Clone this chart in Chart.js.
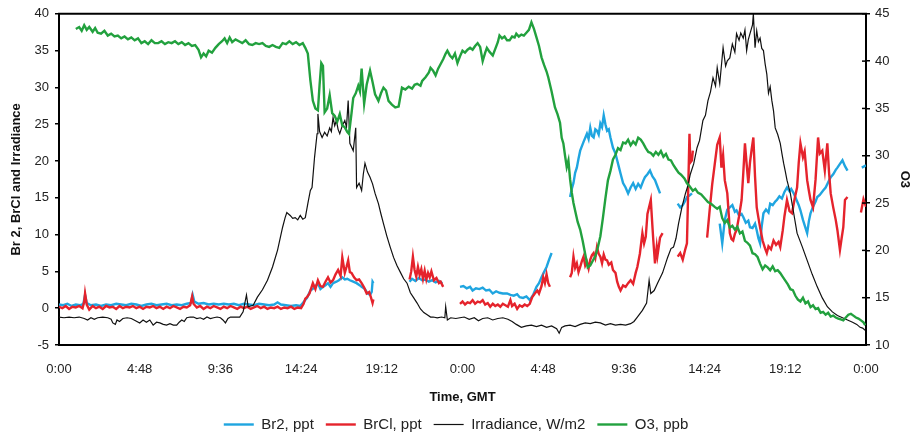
<!DOCTYPE html>
<html>
<head>
<meta charset="utf-8">
<title>Br2, BrCl, irradiance and O3</title>
<script src="https://cdn.jsdelivr.net/npm/chart.js@4.4.1/dist/chart.umd.min.js"></script>
<style>
    html, body { margin: 0; padding: 0; background: #fff; }
    #wrap { width: 912px; height: 436px; position: relative; }
</style>
</head>
<body>
<div id="wrap"><canvas id="chart"></canvas></div>
<script>
// x axis: hours since the first midnight, two days
const xTickHours = [0, 4.8, 9.6, 14.4, 19.2, 24, 28.8, 33.6, 38.4, 43.2, 48];
const xTickLabels = ['0:00', '4:48', '9:36', '14:24', '19:12', '0:00', '4:48', '9:36', '14:24', '19:12', '0:00'];

// Br2, ppt (null = gap in the record)
const br2Hours = [0, 0.25, 0.5, 0.75, 1, 1.25, 1.45, 1.55, 1.65, 1.9, 2.2, 2.5, 2.8, 3.1, 3.4, 3.7, 4, 4.3, 4.6, 4.9, 5.2, 5.5, 5.8, 6.1, 6.4, 6.7, 7, 7.3, 7.6, 7.85, 7.95, 8.05, 8.3, 8.6, 8.9, 9.2, 9.5, 9.8, 10.1, 10.4, 10.7, 11, 11.3, 11.6, 11.9, 12.2, 12.5, 12.8, 13, 13.2, 13.5, 13.8, 14.1, 14.35, 14.5, 14.75, 14.95, 15.2, 15.4, 15.55, 15.7, 15.85, 16, 16.15, 16.3, 16.5, 16.65, 16.85, 17, 17.15, 17.3, 17.5, 17.7, 17.9, 18, 18.2, 18.35, 18.5, 18.6, 18.65, 18.7, 18.8,
    20.85, 21, 21.2, 21.4, 21.6, 21.8, 22, 22.2, 22.4, 22.6, 22.8, 23.3,
    23.85, 24.05, 24.25, 24.45, 24.6, 24.8, 25, 25.2, 25.4, 25.6, 25.8, 26, 26.2, 26.4, 26.65, 26.85, 27.05, 27.25, 27.4, 27.6, 27.8, 28, 28.2, 28.4, 28.55, 28.7, 28.85, 29, 29.15, 29.3, 29.6,
    30.4, 30.5, 30.6, 30.7, 30.8, 30.9, 31, 31.2, 31.4, 31.5, 31.6, 31.7, 31.8, 31.9, 32, 32.1, 32.2, 32.3, 32.4, 32.5, 32.6, 32.7, 32.8, 32.95, 33.1, 33.2, 33.3, 33.4, 33.55, 33.7, 33.85, 34, 34.15, 34.3, 34.45, 34.6, 34.75, 34.85, 35, 35.15, 35.3, 35.45, 35.6, 35.75, 36,
    36.8, 36.95, 37.1, 37.25, 37.35, 37.5, 37.65, 38.5,
    39.3, 39.45, 39.6, 39.75, 39.9, 40.05, 40.2, 40.3, 40.45, 40.6, 40.7, 40.85, 41, 41.1, 41.25, 41.4, 41.5, 41.6, 41.7, 41.8, 41.9, 42.05, 42.2, 42.3, 42.45, 42.6, 42.7, 42.85, 43, 43.15, 43.3, 43.45, 43.55, 43.7, 43.85, 44, 44.1, 44.25, 44.4, 44.5, 44.6, 44.7, 44.85, 45, 45.1, 45.25, 45.45, 45.6, 45.75, 45.9, 46.05, 46.2, 46.3, 46.45, 46.6, 46.75, 46.9, 47.3,
    47.75, 48];
const br2Ppt = [0.5, 0.4, 0.6, 0.3, 0.5, 0.4, 0.6, 1.8, 0.7, 0.4, 0.5, 0.3, 0.5, 0.4, 0.6, 0.5, 0.4, 0.6, 0.5, 0.3, 0.5, 0.6, 0.4, 0.5, 0.6, 0.4, 0.5, 0.4, 0.6, 0.7, 1.8, 0.9, 0.6, 0.7, 0.5, 0.6, 0.5, 0.6, 0.5, 0.6, 0.4, 0.6, 0.5, 0.4, 0.6, 0.5, 0.4, 0.5, 0.8, 0.5, 0.4, 0.3, 0.4, 0.3, 0.7, 1.4, 2.4, 2.8, 3.4, 2.6, 2.9, 3.1, 3.4, 2.9, 3.4, 3.6, 3.8, 4.2, 3.9, 4.0, 3.8, 3.6, 3.4, 3.1, 2.9, 2.6, 2.0, 1.8, 2.2, 3.6, 3.4, null,
    3.6, 4.0, 3.7, 4.1, 3.8, 3.9, 3.6, 3.8, 3.5, 3.7, 3.4, null,
    2.9, 3.0, 2.7, 2.9, 2.4, 2.7, 2.6, 2.8, 2.4, 2.5, 2.0, 2.3, 2.1, 2.0, 2.0, 1.8, 1.7, 1.9, 1.5, 1.4, 1.6, 1.1, 1.8, 2.9, 3.4, 4.2, 4.9, 5.6, 6.6, 7.5, null,
    15.1, 16.2, 17.0, 18.4, 19.1, 20.3, 21.4, 22.6, 23.7, 23.0, 24.5, 23.4, 23.2, 24.3, 24.1, 23.6, 25.1, 24.6, 26.2, 25.0, 24.1, 24.3, 23.2, 21.8, 21.0, 20.1, 19.2, 18.3, 17.0, 16.4, 15.6, 16.4, 17.0, 16.2, 16.9, 16.4, 17.3, 17.8, 18.2, 18.7, 17.9, 17.4, 16.5, 15.6, null,
    14.2, 13.7, 14.0, 14.6, 15.1, 15.3, 15.6, null,
    11.5, 8.8, 12.0, 13.4, 13.7, 14.0, 13.1, 13.3, 12.6, 12.8, 12.4, 11.6, 11.9, 11.0, 10.9, 11.5, 10.6, 9.5, 8.8, 11.2, 12.9, 13.4, 13.0, 14.2, 14.0, 14.5, 14.7, 15.2, 14.9, 15.8, 16.4, 15.9, 16.2, 15.6, 14.8, 14.0, 13.3, 12.0, 10.9, 10.2, 11.8, 12.9, 13.8, 14.5, 15.1, 15.4, 16.0, 16.4, 17.1, 17.8, 18.2, 18.8, 19.1, 19.6, 20.1, 19.3, 18.7, null,
    19.1, 19.4];

// BrCl, ppt
const brclHours = [0, 0.2, 0.4, 0.6, 0.8, 1, 1.2, 1.4, 1.5, 1.55, 1.65, 1.8, 2, 2.2, 2.4, 2.6, 2.8, 3, 3.2, 3.4, 3.6, 3.8, 4, 4.2, 4.4, 4.6, 4.8, 5, 5.2, 5.4, 5.6, 5.8, 6, 6.2, 6.4, 6.6, 6.8, 7, 7.2, 7.4, 7.6, 7.8, 7.92, 8, 8.2, 8.4, 8.6, 8.8, 9, 9.2, 9.4, 9.6, 9.8, 10, 10.2, 10.4, 10.6, 10.8, 11, 11.2, 11.4, 11.6, 11.8, 12, 12.2, 12.4, 12.6, 12.8, 13, 13.2, 13.4, 13.6, 13.8, 14, 14.2, 14.4, 14.55, 14.65, 14.75, 14.9, 15.1, 15.25, 15.4, 15.55, 15.7, 15.85, 16, 16.15, 16.3, 16.45, 16.6, 16.75, 16.85, 16.95, 17, 17.1, 17.2, 17.3, 17.4, 17.55, 17.7, 17.85, 18, 18.15, 18.3, 18.45, 18.55, 18.65, 18.7, 18.8,
    20.85, 20.95, 21.05, 21.15, 21.25, 21.35, 21.45, 21.55, 21.65, 21.75, 21.85, 21.95, 22.05, 22.15, 22.3, 22.45, 22.6, 22.7, 22.85, 23.3,
    23.85, 24, 24.15, 24.3, 24.45, 24.6, 24.75, 24.9, 25.05, 25.2, 25.35, 25.5, 25.65, 25.8, 25.95, 26.1, 26.25, 26.4, 26.55, 26.7, 26.85, 26.95, 27.1, 27.25, 27.4, 27.55, 27.7, 27.85, 28, 28.15, 28.3, 28.45, 28.55, 28.7, 28.8, 28.9, 29, 29.1, 29.2, 29.6,
    30.4, 30.5, 30.6, 30.7, 30.8, 30.9, 31, 31.1, 31.2, 31.3, 31.4, 31.5, 31.6, 31.7, 31.8, 31.9, 32, 32.1, 32.2, 32.3, 32.4, 32.5, 32.6, 32.7, 32.85, 32.95, 33.1, 33.2, 33.3, 33.4, 33.55, 33.7, 33.85, 34, 34.15, 34.3, 34.4, 34.55, 34.7, 34.8, 34.9, 35, 35.2, 35.3, 35.35, 35.45, 35.55, 35.6, 35.75, 35.9, 36.3,
    36.8, 36.95, 37.1, 37.25, 37.35, 37.45, 37.5, 37.55, 37.65, 37.7, 38.1,
    38.55, 38.7, 38.85, 39, 39.15, 39.3, 39.4, 39.5, 39.6, 39.75, 39.85, 39.9, 40, 40.1, 40.2, 40.3, 40.45, 40.6, 40.7, 40.8, 40.9, 41, 41.1, 41.2, 41.3, 41.4, 41.5, 41.6, 41.7, 41.85, 42, 42.1, 42.2, 42.35, 42.5, 42.65, 42.8, 42.9, 43.05, 43.15, 43.3, 43.45, 43.6, 43.75, 43.9, 44, 44.1, 44.25, 44.35, 44.5, 44.6, 44.7, 44.85, 45, 45.15, 45.25, 45.4, 45.55, 45.7, 45.8, 45.9, 46.05, 46.2, 46.3, 46.45, 46.55, 46.65, 46.75, 46.9, 47.3,
    47.7, 47.85, 48];
const brclPpt = [0.2, 0.0, 0.3, -0.1, 0.2, 0.1, 0.3, 0.0, 0.9, 2.0, 0.5, -0.2, 0.3, 0.0, 0.2, -0.1, 0.3, 0.1, 0.2, -0.1, 0.3, 0.0, 0.2, 0.1, 0.3, 0.0, 0.2, -0.1, 0.2, 0.1, 0.3, 0.0, 0.2, -0.1, 0.2, 0.0, 0.3, 0.1, -0.1, 0.2, 0.1, 0.4, 1.6, 0.6, 0.1, 0.3, -0.1, 0.2, 0.0, 0.3, 0.1, -0.1, 0.2, 0.0, 0.3, 0.1, -0.1, 0.2, 0.0, 0.2, -0.1, 0.1, 0.3, 0.0, 0.2, -0.1, 0.1, 0.0, 0.2, -0.1, 0.1, 0.0, 0.2, -0.1, 0.1, 0.0, 0.6, 1.3, 1.5, 2.0, 3.4, 2.6, 3.8, 3.0, 2.9, 3.6, 4.2, 3.5, 3.8, 4.6, 5.2, 4.4, 6.9, 5.5, 4.8, 5.6, 6.5, 4.9, 4.8, 4.2, 3.8, 3.9, 3.4, 2.8, 2.0, 2.2, 1.5, 0.7, 1.2, null,
    3.9, 5.0, 7.0, 5.2, 4.3, 5.6, 4.5, 5.3, 4.0, 5.1, 3.9, 4.8, 4.2, 5.0, 3.8, 4.1, 3.4, 3.6, 2.9, null,
    0.6, 0.9, 0.5, 0.8, 0.7, 1.1, 0.6, 0.9, 0.8, 1.1, 0.5, 0.7, 0.2, 0.6, 0.3, 0.5, 0.2, 0.6, 0.4, 0.2, 1.1, 0.3, 0.6, -0.1, 0.4, 0.2, 0.5, 0.3, 0.6, 1.5, 2.0, 2.4, 2.0, 3.0, 4.2, 3.4, 4.6, 3.4, 2.9, null,
    4.2, 4.8, 7.0, 5.5, 6.1, 4.9, 5.6, 6.4, 7.0, 5.8, 6.3, 5.4, 6.6, 7.2, 7.5, 6.8, 8.3, 7.4, 7.0, 6.1, 7.3, 6.6, 6.5, 5.9, 6.2, 5.2, 4.8, 3.6, 2.9, 2.4, 3.1, 2.9, 3.4, 3.8, 3.3, 4.8, 5.6, 7.4, 10.2, 8.8, 9.7, 12.8, 14.7, 11.0, 9.2, 6.1, 8.3, 7.2, 9.6, 10.2, null,
    7.0, 7.5, 6.6, 8.0, 8.8, 18.6, 23.7, 19.8, 20.1, 21.4, null,
    9.6, 13.3, 16.8, 19.5, 22.2, 23.2, 19.1, 20.8, 17.4, 15.6, 12.3, 10.2, 9.4, 9.2, 10.1, 10.6, 12.5, 14.7, 18.3, 22.4, 19.6, 17.0, 19.8, 21.6, 23.2, 17.9, 13.7, 12.3, 11.0, 9.2, 8.1, 7.5, 8.4, 8.0, 9.2, 8.6, 9.0, 8.3, 10.6, 12.5, 14.7, 13.2, 12.9, 14.8, 16.4, 19.8, 22.4, 20.5, 21.3, 17.4, 16.0, 14.7, 13.7, 17.5, 23.2, 21.0, 21.4, 18.7, 22.4, 18.5, 15.6, 13.7, 12.0, 10.6, 7.9, 9.5, 11.0, 14.7, 15.1, null,
    13.0, 14.8, 13.8];

// Irradiance, W/m2
const irrHours = [0, 0.3, 0.6, 0.9, 1.2, 1.5, 1.7, 1.9, 2.1, 2.3, 2.6, 2.9, 3.1, 3.2, 3.35, 3.45, 3.6, 3.8, 4.05, 4.3, 4.55, 4.8, 5, 5.2, 5.4, 5.6, 5.8, 6, 6.2, 6.4, 6.6, 6.8, 7, 7.15, 7.3, 7.45, 7.6, 7.8, 8, 8.2, 8.4, 8.6, 8.8, 9, 9.2, 9.4, 9.6, 9.75, 9.9, 10.05, 10.2, 10.5, 10.75, 10.95, 11.15, 11.25, 11.55, 11.8, 12.1, 12.4, 12.7, 13, 13.3, 13.45, 13.55, 13.75, 13.9, 14.05, 14.2, 14.35, 14.5, 14.65, 14.8, 14.95, 15.05, 15.2, 15.35, 15.4, 15.5, 15.65, 15.8, 15.95, 16.1, 16.2, 16.3, 16.4, 16.5, 16.6, 16.7, 16.85, 17, 17.1, 17.2, 17.3, 17.5, 17.65, 17.7, 17.85, 18, 18.1, 18.2, 18.35, 18.5, 18.65, 18.8, 19, 19.15, 19.3, 19.5, 19.7, 19.9, 20.1, 20.3, 20.5, 20.7, 20.9, 21.1, 21.3, 21.5, 21.7, 21.9, 22.1, 22.25, 22.5, 22.75, 22.95, 23, 23.1, 23.3, 23.6, 23.85,
    24.1, 24.4, 24.7, 24.95, 25.2, 25.5, 25.8, 26.1, 26.4, 26.7, 26.95, 27.2, 27.5, 27.8, 28.1, 28.4, 28.7, 29, 29.3, 29.6, 29.75, 29.9, 30.1, 30.4, 30.7, 31, 31.3, 31.6, 31.9, 32.2, 32.5, 32.8, 33.1, 33.4, 33.7, 34, 34.2, 34.4, 34.7, 34.95, 35.1, 35.2, 35.4, 35.6, 35.9, 36.2, 36.4, 36.55, 36.7, 36.85, 37.05, 37.25, 37.4, 37.55, 37.75, 37.95, 38.1, 38.3, 38.45, 38.6, 38.75, 38.9, 39.05, 39.15, 39.3, 39.45, 39.5, 39.65, 39.75, 39.9, 40.05, 40.2, 40.3, 40.45, 40.55, 40.7, 40.8, 40.9, 41, 41.1, 41.25, 41.3, 41.4, 41.5, 41.6, 41.7, 41.8, 41.9, 42, 42.1, 42.2, 42.3, 42.4, 42.5, 42.6, 42.75, 42.9, 43, 43.1, 43.2, 43.3, 43.5, 43.7, 43.9, 44.2, 44.5, 44.8, 45.1, 45.4, 45.7, 46, 46.3, 46.5, 46.8, 47, 47.2, 47.45, 47.65, 47.8, 47.95];
const irrWm2 = [-1.2, -1.3, -1.2, -1.3, -1.2, -1.4, -1.6, -1.3, -1.5, -1.3, -1.2, -1.3, -1.5, -2.0, -2.2, -1.6, -1.8, -1.4, -1.3, -1.4, -1.7, -2.0, -1.6, -1.9, -1.6, -2.3, -1.9, -2.0, -2.2, -2.3, -2.1, -2.3, -2.3, -1.9, -1.6, -1.8, -1.3, -1.2, -1.2, -1.4, -1.3, -1.5, -1.2, -1.4, -1.3, -1.2, -1.3, -1.6, -2.0, -1.4, -1.2, -1.2, -1.2, -0.5, 1.8, 0.2, 0.4, 1.5, 2.5, 3.8, 5.6, 7.9, 11.0, 12.3, 13.0, 12.6, 12.2, 12.3, 12.0, 12.6, 12.1, 12.3, 14.2, 16.0, 16.4, 20.5, 23.7, 26.4, 24.0, 23.2, 23.9, 23.4, 24.5, 24.0, 25.9, 24.8, 25.5, 24.3, 23.7, 24.8, 25.5, 24.6, 28.2, 22.4, 21.4, 24.5, 16.4, 17.0, 16.0, 18.2, 19.7, 18.5, 17.8, 16.9, 15.6, 14.2, 12.8, 11.5, 9.8, 8.3, 6.9, 5.8, 4.9, 4.0, 3.4, 2.1, 1.4, 0.7, -0.1, -0.6, -0.9, -1.2, -1.2, -1.3, -1.2, -1.3, 0.2, -1.6, -1.3, -1.4, -1.3,
    -1.2, -1.5, -1.3, -1.7, -1.4, -1.3, -1.6, -1.4, -1.3, -1.5, -1.8, -2.2, -2.6, -2.4, -2.3, -2.5, -2.3, -2.6, -2.4, -2.8, -3.4, -2.6, -2.4, -2.3, -2.5, -2.2, -2.0, -2.1, -1.9, -2.0, -2.3, -2.1, -2.3, -2.2, -2.3, -2.1, -1.8, -1.2, -0.3, 0.7, 3.8, 2.0, 2.4, 3.4, 4.8, 6.9, 8.1, 8.3, 9.5, 11.5, 13.7, 15.5, 16.6, 18.2, 19.6, 21.8, 22.8, 25.5, 26.2, 28.2, 29.4, 31.3, 30.2, 32.7, 30.5, 34.2, 35.4, 32.9, 33.6, 34.0, 35.9, 34.8, 37.3, 36.4, 37.4, 36.7, 37.8, 35.0, 36.5, 37.3, 38.5, 40.0, 35.4, 37.7, 36.2, 36.7, 35.3, 35.0, 33.2, 31.8, 29.2, 30.1, 28.2, 26.8, 24.5, 23.6, 22.4, 21.0, 19.7, 18.6, 17.4, 15.6, 12.9, 10.2, 8.4, 6.5, 4.6, 2.9, 1.4, 0.2, -0.5, -1.0, -1.2, -1.5, -1.7, -1.9, -2.2, -2.6, -2.7, -3.0];

// O3, ppb (right axis)
const o3Hours = [1, 1.2, 1.35, 1.5, 1.65, 1.8, 2, 2.15, 2.3, 2.5, 2.7, 2.9, 3.1, 3.3, 3.5, 3.7, 3.9, 4.1, 4.3, 4.5, 4.7, 4.9, 5.1, 5.3, 5.5, 5.7, 5.9, 6.1, 6.3, 6.5, 6.7, 6.9, 7.1, 7.3, 7.5, 7.7, 7.9, 8.1, 8.3, 8.45, 8.6, 8.75, 8.9, 9.1, 9.3, 9.5, 9.7, 9.85, 10, 10.15, 10.3, 10.5, 10.7, 10.9, 11.1, 11.3, 11.5, 11.7, 11.9, 12.1, 12.3, 12.5, 12.7, 12.9, 13.1, 13.3, 13.5, 13.7, 13.9, 14.1, 14.3, 14.5, 14.65, 14.8, 14.95, 15.1, 15.25, 15.4, 15.5, 15.6, 15.7, 15.8, 15.95, 16.1, 16.25, 16.4, 16.55, 16.7, 16.85, 17, 17.15, 17.25, 17.4, 17.5, 17.65, 17.8, 17.9, 18, 18.15, 18.3, 18.5, 18.65, 18.8, 19, 19.15, 19.3, 19.45, 19.6, 19.8, 20, 20.2, 20.4, 20.6, 20.8, 21, 21.15, 21.3, 21.5, 21.6, 21.8, 22, 22.1, 22.25, 22.4, 22.55, 22.7, 22.85, 23, 23.1, 23.25, 23.4, 23.55, 23.7, 23.85,
    24, 24.15, 24.3, 24.45, 24.6, 24.75, 24.9, 25.05, 25.2, 25.35, 25.45, 25.6, 25.8, 25.95, 26.1, 26.2, 26.35, 26.5, 26.65, 26.8, 26.95, 27.1, 27.2, 27.35, 27.5, 27.65, 27.8, 27.95, 28.1, 28.25, 28.4, 28.55, 28.7, 28.85, 29, 29.1, 29.3, 29.5, 29.65, 29.8, 29.9, 30, 30.1, 30.2, 30.3, 30.4, 30.5, 30.6, 30.75, 30.85, 31, 31.15, 31.3, 31.45, 31.6, 31.75, 31.9, 32.05, 32.2, 32.35, 32.5, 32.65, 32.8, 32.95, 33.1, 33.25, 33.4, 33.55, 33.7, 33.85, 34, 34.15, 34.3, 34.45, 34.6, 34.75, 34.9, 35.05, 35.2, 35.35, 35.5, 35.65, 35.8, 35.95, 36.1, 36.25, 36.4, 36.55, 36.7, 36.85, 37, 37.2, 37.35, 37.5, 37.7, 37.85, 38, 38.2, 38.4, 38.6, 38.8, 39, 39.15, 39.3, 39.45, 39.6, 39.75, 39.9, 40.05, 40.2, 40.35, 40.5, 40.65, 40.8, 40.95, 41.1, 41.25, 41.4, 41.55, 41.7, 41.85, 42, 42.15, 42.3, 42.45, 42.6, 42.75, 42.9, 43.05, 43.2, 43.35, 43.5, 43.65, 43.8, 43.95, 44.1, 44.25, 44.4, 44.55, 44.7, 44.85, 45, 45.15, 45.3, 45.45, 45.6, 45.75, 45.9, 46.05, 46.2, 46.35, 46.5, 46.65, 46.8, 46.95, 47.1, 47.25, 47.4, 47.55, 47.7, 47.85, 47.95];
const o3Ppb = [43.4, 43.6, 43.2, 43.8, 43.3, 43.6, 43.1, 43.5, 43.0, 42.9, 43.2, 42.7, 42.9, 42.6, 42.7, 42.4, 42.6, 42.3, 42.5, 42.2, 42.4, 41.9, 42.1, 41.8, 42.2, 41.9, 41.9, 42.1, 41.8, 42.0, 41.9, 42.1, 41.8, 42.0, 41.7, 41.9, 41.6, 41.7, 41.2, 40.4, 40.8, 40.5, 41.1, 40.9, 41.4, 41.8, 42.1, 42.4, 41.9, 42.5, 42.0, 42.3, 42.1, 41.9, 42.2, 41.8, 41.7, 41.9, 41.8, 41.9, 41.6, 41.5, 41.7, 41.5, 41.4, 41.9, 41.8, 42.1, 41.8, 42.0, 41.7, 41.9, 41.4, 40.8, 38.0, 35.8, 35.0, 34.8, 37.5, 39.8, 39.5, 34.6, 35.0, 36.4, 34.5, 34.2, 33.6, 34.4, 33.2, 33.0, 32.5, 32.3, 34.5, 36.1, 36.6, 37.4, 36.8, 39.2, 35.5, 37.5, 39.0, 37.8, 36.5, 35.8, 36.6, 37.2, 36.9, 35.8, 35.4, 35.1, 35.2, 37.2, 37.0, 37.3, 37.1, 37.5, 37.6, 37.4, 37.9, 38.3, 38.8, 39.3, 39.0, 38.5, 39.2, 39.7, 40.2, 40.8, 41.1, 40.6, 40.3, 40.8, 39.8, 40.5,
    41.1, 40.9, 41.2, 41.4, 41.2, 41.6, 41.9, 41.5, 40.0, 40.9, 41.4, 41.0, 40.6, 41.3, 42.0, 42.7, 42.4, 42.6, 42.2, 42.2, 42.6, 42.5, 42.9, 42.6, 42.8, 42.7, 43.0, 43.3, 44.1, 43.4, 42.5, 41.6, 40.4, 39.6, 38.9, 38.3, 36.8, 35.1, 34.4, 33.5, 31.9, 31.3, 30.0, 28.8, 29.5, 27.5, 26.1, 25.0, 23.8, 23.0, 22.2, 21.0, 19.6, 18.2, 18.4, 18.9, 19.4, 20.3, 21.5, 23.4, 25.5, 27.4, 28.4, 29.6, 30.1, 30.8, 30.6, 31.4, 31.3, 31.7, 31.1, 31.5, 31.2, 31.9, 31.7, 31.3, 30.8, 30.4, 30.3, 30.0, 30.4, 30.1, 30.5, 29.9, 30.2, 29.6, 29.5, 29.0, 28.6, 28.2, 28.0, 27.6, 27.1, 26.8, 26.3, 26.5, 26.1, 25.9, 25.5, 25.1, 24.9, 24.6, 24.4, 24.6, 23.4, 22.9, 23.2, 22.4, 22.6, 22.2, 22.5, 21.8, 22.0, 21.0, 20.8, 20.5, 19.7, 19.6, 19.3, 18.6, 18.0, 18.4, 18.2, 17.9, 18.3, 17.8, 17.9, 17.6, 17.2, 16.8, 16.4, 15.9, 15.8, 15.2, 14.8, 14.6, 15.0, 14.4, 14.6, 14.0, 14.2, 13.8, 13.9, 13.4, 13.5, 13.2, 13.4, 13.0, 13.1, 12.9, 12.8, 12.7, 12.6, 12.9, 13.2, 13.3, 13.1, 12.9, 12.8, 12.6, 12.4, 12.1];

const seriesNames = ['Br2, ppt', 'BrCl, ppt', 'Irradiance, W/m2', 'O3, ppb'];
const seriesColors = ['#1fa5e0', '#e5232c', '#111111', '#22a13e'];

const FONT = "'Liberation Sans', Arial, sans-serif";

function toPoints(hours, values) {
    return hours.map((h, i) => ({ x: h, y: values[i] }));
}

// black box line along the top plus inner half of the right-axis ticks
const framePlugin = {
    id: 'frame',
    afterDatasetsDraw(chart) {
        const { ctx, chartArea: a } = chart;
        const right = chart.scales.yO3;
        ctx.save();
        ctx.strokeStyle = '#000';
        ctx.lineWidth = 2;
        ctx.beginPath();
        ctx.moveTo(a.left - 1, a.top);
        ctx.lineTo(a.right + 1, a.top);
        ctx.stroke();
        ctx.lineWidth = 1.5;
        right.ticks.forEach(t => {
            const y = right.getPixelForValue(t.value);
            ctx.beginPath();
            ctx.moveTo(a.right - 4, y);
            ctx.lineTo(a.right, y);
            ctx.stroke();
        });
        ctx.restore();
    }
};

const lineSet = (i, hours, values, axis, width) => ({
    label: seriesNames[i],
    data: toPoints(hours, values),
    yAxisID: axis,
    borderColor: seriesColors[i],
    backgroundColor: seriesColors[i],
    borderWidth: width,
    pointRadius: 0,
    pointStyle: 'line',
    tension: 0,
    spanGaps: false,
    order: 4 - i
});

new Chart(document.getElementById('chart'), {
    type: 'line',
    data: {
        datasets: [
            lineSet(0, br2Hours, br2Ppt, 'yLeft', 2.4),
            lineSet(1, brclHours, brclPpt, 'yLeft', 2.4),
            lineSet(2, irrHours, irrWm2, 'yLeft', 1.2),
            lineSet(3, o3Hours, o3Ppb, 'yO3', 2.4)
        ]
    },
    options: {
        responsive: true,
        maintainAspectRatio: false,
        animation: false,
        layout: { padding: { top: 13, left: 0, right: 0, bottom: -6 } },
        plugins: {
            tooltip: { enabled: false },
            legend: {
                position: 'bottom',
                labels: {
                    usePointStyle: true,
                    pointStyleWidth: 30,
                    padding: 12,
                    color: '#222',
                    font: { family: FONT, size: 15 },
                    sort: (a, b) => a.datasetIndex - b.datasetIndex
                }
            }
        },
        scales: {
            x: {
                type: 'linear',
                min: 0,
                max: 48,
                afterBuildTicks: axis => { axis.ticks = xTickHours.map(v => ({ value: v })); },
                afterFit: axis => { axis.height = 60; },
                ticks: {
                    padding: 17,
                    maxRotation: 0,
                    color: '#222',
                    font: { family: FONT, size: 13 },
                    callback: (v, i) => xTickLabels[i]
                },
                grid: { display: false, drawTicks: false },
                border: { display: true, color: '#000', width: 2 },
                title: {
                    display: true,
                    text: 'Time, GMT',
                    color: '#111',
                    padding: { top: 0, bottom: 0 },
                    font: { family: FONT, size: 13, weight: 'bold' }
                }
            },
            yLeft: {
                position: 'left',
                min: -5,
                max: 40,
                afterFit: axis => { axis.width = 59; },
                ticks: {
                    stepSize: 5,
                    padding: 6,
                    color: '#222',
                    font: { family: FONT, size: 13 }
                },
                grid: { display: true, drawOnChartArea: false, tickLength: 4, color: '#000', lineWidth: 1.5 },
                border: { display: true, color: '#000', width: 2 },
                title: {
                    display: true,
                    text: 'Br 2, BrCl and Irradiance',
                    color: '#111',
                    padding: { top: 9, bottom: 0 },
                    font: { family: FONT, size: 13, weight: 'bold' }
                }
            },
            yO3: {
                position: 'right',
                min: 10,
                max: 45,
                afterFit: axis => { axis.width = 46; },
                ticks: {
                    stepSize: 5,
                    padding: 5,
                    color: '#222',
                    font: { family: FONT, size: 13 }
                },
                grid: { display: true, drawOnChartArea: false, tickLength: 4, color: '#000', lineWidth: 1.5 },
                border: { display: true, color: '#000', width: 2 },
                title: {
                    display: true,
                    text: 'O3',
                    color: '#111',
                    padding: { top: 0, bottom: 0 },
                    font: { family: FONT, size: 13, weight: 'bold' }
                }
            }
        }
    },
    plugins: [framePlugin]
});
</script>
</body>
</html>
